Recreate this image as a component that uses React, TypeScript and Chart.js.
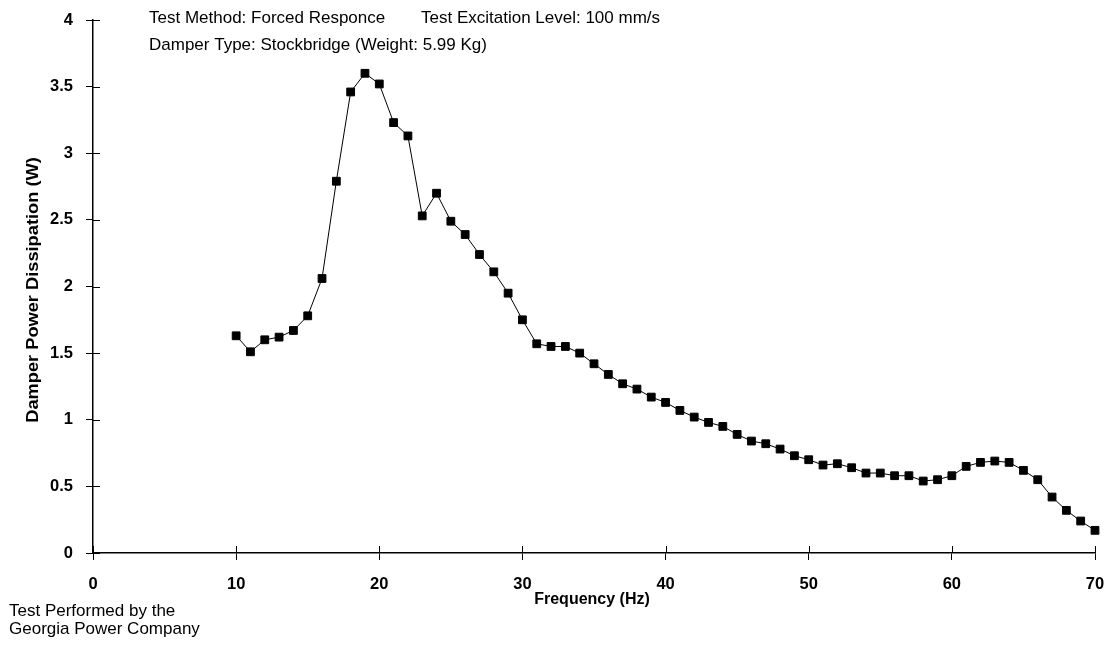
import React, { useEffect, useRef } from "react";
import { Chart, registerables } from "chart.js";

Chart.register(...registerables);

const frequencies = [
  10, 11, 12, 13, 14, 15, 16, 17, 18, 19, 20, 21, 22, 23, 24, 25, 26, 27, 28, 29,
  30, 31, 32, 33, 34, 35, 36, 37, 38, 39, 40, 41, 42, 43, 44, 45, 46, 47, 48, 49,
  50, 51, 52, 53, 54, 55, 56, 57, 58, 59, 60, 61, 62, 63, 64, 65, 66, 67, 68, 69, 70,
];

const powerW = [
  1.63, 1.51, 1.6, 1.62, 1.67, 1.78, 2.06, 2.79, 3.46, 3.6, 3.52, 3.23, 3.13, 2.53, 2.7, 2.49, 2.39, 2.24, 2.11, 1.95,
  1.75, 1.57, 1.55, 1.55, 1.5, 1.42, 1.34, 1.27, 1.23, 1.17, 1.13, 1.07, 1.02, 0.98, 0.95, 0.89, 0.84, 0.82, 0.78, 0.73,
  0.7, 0.66, 0.67, 0.64, 0.6, 0.6, 0.58, 0.58, 0.54, 0.55, 0.58, 0.65, 0.68, 0.69, 0.68, 0.62, 0.55, 0.42, 0.32, 0.24, 0.17,
];

const xTickValues = [0, 10, 20, 30, 40, 50, 60, 70];
const yTickValues = [0, 0.5, 1, 1.5, 2, 2.5, 3, 3.5, 4];

const headerLine1Left = "Test Method: Forced Responce";
const headerLine1Right = "Test Excitation Level: 100 mm/s";
const headerLine2 = "Damper Type: Stockbridge (Weight: 5.99 Kg)";
const footerLine1 = "Test Performed by the";
const footerLine2 = "Georgia Power Company";
const xTitle = "Frequency (Hz)";
const yTitle = "Damper Power Dissipation (W)";

const FONT = "Arial, 'Liberation Sans', sans-serif";

const annotationPlugin = {
  id: "annotations",
  afterDraw(chart: any) {
    const ctx = chart.ctx as CanvasRenderingContext2D;
    const xs = chart.scales.x;
    const ys = chart.scales.y;
    const area = chart.chartArea;
    ctx.save();
    // inward halves of crossing tick marks
    ctx.strokeStyle = "#000";
    ctx.lineWidth = 1;
    ctx.beginPath();
    for (const v of xTickValues) {
      const px = Math.round(xs.getPixelForValue(v)) + 0.5;
      ctx.moveTo(px, area.bottom);
      ctx.lineTo(px, area.bottom - 7);
    }
    for (const v of yTickValues) {
      const py = Math.round(ys.getPixelForValue(v)) + 0.5;
      ctx.moveTo(area.left, py);
      ctx.lineTo(area.left + 7, py);
    }
    ctx.stroke();

    ctx.fillStyle = "#000";
    ctx.textBaseline = "alphabetic";
    ctx.textAlign = "left";
    ctx.font = `17px ${FONT}`;
    ctx.fillText(headerLine1Left, 149, 23);
    ctx.fillText(headerLine1Right, 421, 23);
    ctx.fillText(headerLine2, 149, 49.5);
    ctx.fillText(footerLine1, 9, 616);
    ctx.fillText(footerLine2, 9, 634);

    ctx.font = `bold 16px ${FONT}`;
    ctx.textAlign = "center";
    ctx.fillText(xTitle, 592, 604);

    ctx.translate(38, 290);
    ctx.rotate(-Math.PI / 2);
    ctx.scale(1.14, 1);
    ctx.fillText(yTitle, 0, 0);
    ctx.restore();
  },
};

export default function App() {
  const canvasRef = useRef<HTMLCanvasElement | null>(null);

  useEffect(() => {
    document.body.style.margin = "0";
    const canvas = canvasRef.current;
    if (!canvas) return;
    const chart = new Chart(canvas, {
      type: "line",
      data: {
        datasets: [
          {
            data: frequencies.map((f, i) => ({ x: f, y: powerW[i] })),
            borderColor: "#000",
            borderWidth: 1,
            backgroundColor: "#000",
            pointStyle: "rect",
            pointRadius: 5.5,
            pointBorderWidth: 1,
            pointBackgroundColor: "#000",
            pointBorderColor: "#000",
            tension: 0,
            clip: false as any,
          },
        ],
      },
      options: {
        responsive: false,
        animation: false,
        events: [],
        layout: { padding: { top: 20, right: 16, bottom: 0, left: 0 } },
        plugins: {
          legend: { display: false },
          tooltip: { enabled: false },
          title: { display: false },
        },
        scales: {
          x: {
            type: "linear",
            min: 0,
            max: 70,
            afterBuildTicks: (scale: any) => {
              scale.ticks = xTickValues.map((v) => ({ value: v }));
            },
            afterFit: (scale: any) => {
              scale.height = 94;
              scale.paddingLeft = 0;
              scale.paddingRight = 0;
            },
            grid: {
              display: true,
              drawOnChartArea: false,
              drawTicks: true,
              tickLength: 7,
              color: "#000",
              lineWidth: 1,
            },
            border: { display: true, color: "#000", width: 1.5 },
            ticks: {
              color: "#000",
              padding: 15,
              maxRotation: 0,
              autoSkip: false,
              font: { family: FONT, size: 16.5, weight: "bold" },
            },
          },
          y: {
            type: "linear",
            min: 0,
            max: 4,
            afterBuildTicks: (scale: any) => {
              scale.ticks = yTickValues.map((v) => ({ value: v }));
            },
            afterFit: (scale: any) => {
              scale.width = 93;
              scale.paddingTop = 0;
              scale.paddingBottom = 0;
            },
            grid: {
              display: true,
              drawOnChartArea: false,
              drawTicks: true,
              tickLength: 7,
              color: "#000",
              lineWidth: 1,
            },
            border: { display: true, color: "#000", width: 1.5 },
            ticks: {
              color: "#000",
              padding: 13,
              autoSkip: false,
              font: { family: FONT, size: 16.5, weight: "bold" },
              callback: (v: any) => String(v),
            },
          },
        },
      },
      plugins: [annotationPlugin],
    });
    return () => chart.destroy();
  }, []);

  return (
    <div style={{ width: 1111, height: 647, background: "#fff" }}>
      <canvas ref={canvasRef} width={1111} height={647} style={{ display: "block" }} />
    </div>
  );
}
